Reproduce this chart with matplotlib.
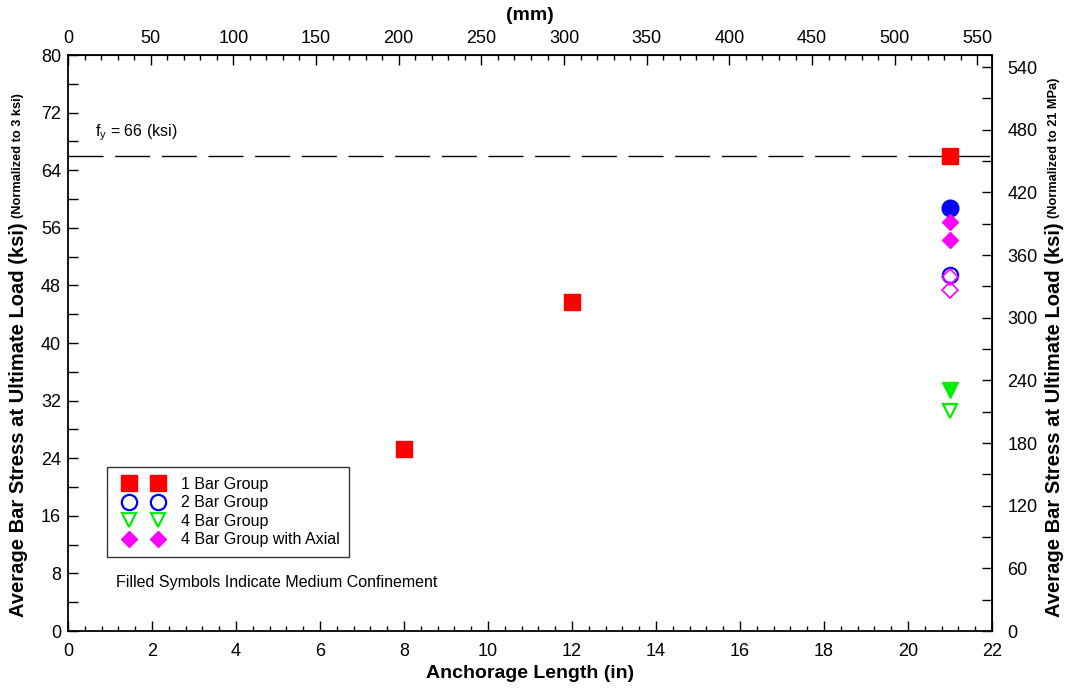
import matplotlib
matplotlib.use("Agg")
import matplotlib.pyplot as plt
from matplotlib.legend_handler import HandlerLine2D
from matplotlib.lines import Line2D
from matplotlib.ticker import MultipleLocator

plt.rcParams["font.family"] = ["Liberation Sans", "DejaVu Sans"]

# anchorage length (in) and bar stress (ksi)
one_bar_x = [8, 12, 21]
one_bar_y = [25.3, 45.7, 66.0]
two_bar_filled_x = [21]
two_bar_filled_y = [58.8]
two_bar_open_x = [21]
two_bar_open_y = [49.4]
four_bar_filled_x = [21]
four_bar_filled_y = [33.5]
four_bar_open_x = [21]
four_bar_open_y = [30.5]
axial_filled_x = [21, 21]
axial_filled_y = [56.85, 54.3]
axial_open_x = [21, 21]
axial_open_y = [49.2, 47.4]
fy = 66
legend_labels = ["1 Bar Group", "2 Bar Group", "4 Bar Group", "4 Bar Group with Axial"]

IN_TO_MM = 25.4
KSI_TO_MPA = 6.894757
GREEN = "#00ee00"

W, H = 1071, 689
fig = plt.figure(figsize=(W / 100, H / 100), dpi=100)
ax = fig.add_axes([68 / W, 1 - 631 / H, 924 / W, 576 / H])

ax.plot([0, 22], [fy, fy], color="black", lw=1.0, dashes=(25.2, 8.4),
        dash_capstyle="butt")
ax.text(0.64, 68.7, r"f$_\mathregular{y}$ = 66 (ksi)", fontsize=11.5)

ax.plot(one_bar_x, one_bar_y, "s", color="red", ms=11)
ax.plot(two_bar_filled_x, two_bar_filled_y, "o", color="blue", ms=12)
ax.plot(two_bar_open_x, two_bar_open_y, "o", mfc="none", mec="blue", mew=1.6, ms=11)
ax.plot(four_bar_filled_x, four_bar_filled_y, "v", color=GREEN, ms=11)
ax.plot(four_bar_open_x, four_bar_open_y, "v", mfc="none", mec=GREEN, mew=1.6, ms=10.5)
ax.plot(axial_filled_x, axial_filled_y, "D", color="magenta", ms=8.5)
ax.plot(axial_open_x, axial_open_y, "D", mfc="none", mec="magenta", mew=1.2, ms=8.5)

ax.text(1.14, 6.8, "Filled Symbols Indicate Medium Confinement", fontsize=11.5,
        va="center")

handles = [
    Line2D([], [], ls="none", marker="s", color="red", ms=11),
    Line2D([], [], ls="none", marker="o", mfc="none", mec="blue", mew=1.6, ms=11),
    Line2D([], [], ls="none", marker="v", mfc="none", mec=GREEN, mew=1.6, ms=10.5),
    Line2D([], [], ls="none", marker="D", color="magenta", ms=8.5),
]
leg = ax.legend(handles, legend_labels, loc="lower left",
                handler_map={Line2D: HandlerLine2D(marker_pad=0.78, numpoints=2)},
                bbox_to_anchor=((107 - 68) / 924, (631 - 557) / 576),
                fontsize=11.5, frameon=True, fancybox=False, edgecolor="black",
                handlelength=3.36, handletextpad=0.66, labelspacing=0.22,
                borderpad=0.6, borderaxespad=0)
leg.get_frame().set_linewidth(1.0)

ax.set_xlim(0, 22)
ax.set_ylim(0, 80)
ax.xaxis.set_major_locator(MultipleLocator(2))
ax.xaxis.set_minor_locator(MultipleLocator(0.4))
ax.yaxis.set_major_locator(MultipleLocator(8))
ax.yaxis.set_minor_locator(MultipleLocator(4))
ax.tick_params(which="both", direction="in", labelsize=13, width=1.0)
ax.tick_params(axis="x", which="major", length=7, pad=9)
ax.tick_params(axis="x", which="minor", length=3.5)
ax.tick_params(axis="y", which="both", length=7, pad=5)
for sp in ax.spines.values():
    sp.set_linewidth(1.3)

top = ax.secondary_xaxis("top", functions=(lambda x: x * IN_TO_MM, lambda x: x / IN_TO_MM))
top.xaxis.set_major_locator(MultipleLocator(50))
top.xaxis.set_minor_locator(MultipleLocator(10))
top.tick_params(which="both", direction="in", labelsize=13, width=1.0)
top.tick_params(which="major", length=7, pad=5.5)
top.tick_params(which="minor", length=3.5)

right = ax.secondary_yaxis("right", functions=(lambda y: y * KSI_TO_MPA, lambda y: y / KSI_TO_MPA))
right.yaxis.set_major_locator(MultipleLocator(60))
right.yaxis.set_minor_locator(MultipleLocator(30))
right.tick_params(which="both", direction="in", labelsize=13, width=1.0, length=7, pad=11)

fig.text(530 / W, 1 - 16 / H, "(mm)", fontsize=14, fontweight="bold",
         ha="center", va="center")
fig.text(530 / W, 1 - 674 / H, "Anchorage Length (in)", fontsize=14,
         fontweight="bold", ha="center", va="center")

# composite rotated y labels (bold main text + small normalisation note)
fig.canvas.draw()
renderer = fig.canvas.get_renderer()


def side_label(xpix, main, note):
    t1 = fig.text(0, 0, main, rotation=90, fontsize=14.5, fontweight="bold",
                  ha="center", va="bottom")
    t2 = fig.text(0, 0, note, rotation=90, fontsize=9.2, fontweight="bold",
                  ha="center", va="bottom")
    h1 = t1.get_window_extent(renderer).height
    ybot = H - 617
    t1.set_position((xpix / W, ybot / H))
    t2.set_position(((xpix - 1) / W, (ybot + h1 + 4) / H))


side_label(19, "Average Bar Stress at Ultimate Load (ksi)", "(Normalized to 3 ksi)")
side_label(1055, "Average Bar Stress at Ultimate Load (ksi)", "(Normalized to 21 MPa)")

fig.savefig("out.png", dpi=100)
